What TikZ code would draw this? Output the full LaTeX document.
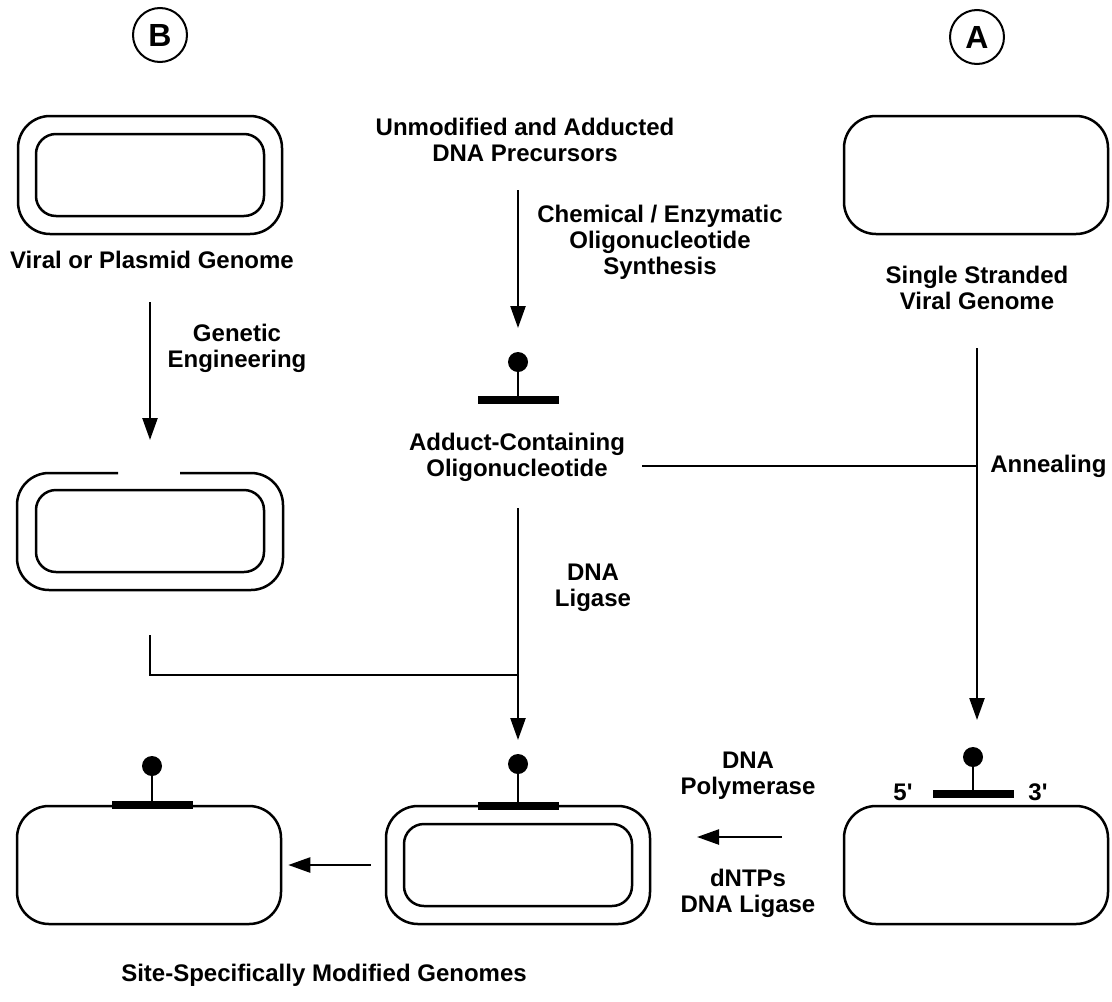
\documentclass[tikz,border=0pt]{standalone}
\usepackage{fontspec}
\setmainfont{Liberation Sans}
\usetikzlibrary{arrows.meta}

\begin{document}
\begin{tikzpicture} [x = 0.5pt, y = -0.5pt,
	every node/.style = {font = \bfseries\fontsize{12}{13}\selectfont,
		align = center,
		inner sep = 0pt},
	tag/.style = {circle,
		draw,
		line width = 1pt,
		minimum size = 27pt,
		font = \bfseries\fontsize{16}{16}\selectfont},
	genome/.style = {draw,
		line width = 1.25pt,
		rounded corners = 16pt,
		minimum width = 132pt,
		minimum height = 59pt},
	inner/.style = {genome,
		rounded corners = 10pt,
		minimum width = 114pt,
		minimum height = 41pt},
	oligo/.style = {fill, minimum width = 40.5pt, minimum height = 4pt},
	adduct/.style = {circle, fill, minimum size = 10pt},
	stick/.style = {line width = 1pt},
	link/.style = {line width = 1.2pt},
	arr/.style = {link, -{Triangle[length = 11pt, width = 7.5pt]}}]

	\useasboundingbox (0,0) rectangle (1112,1001);

	\node (B) [tag] at (160,35) {B};
	\node (A) [tag] at (977,37) {A};

	% pathway B
	\node (plasmid) [genome] at (150,175) {};
	\node (plasmidin) [inner] at (150,175) {};
	\node (plasmidlbl) at (152,260) {Viral or Plasmid Genome};
	\node (geneng) at (237,348) {Genetic\\Engineering};
	\draw [line width = 1.25pt, rounded corners = 16pt]
		(118,473) -- (17,473) -- (17,590) -- (283,590) -- (283,473) -- (180,473);
	\node (cutin) [inner] at (150,531) {};

	% oligonucleotide
	\node (prec) at (525,140) {Unmodified and Adducted\\DNA Precursors};
	\node (synth) at (660,242) {Chemical / Enzymatic\\Oligonucleotide\\Synthesis};
	\node (o1) [oligo] at (518,400) {};
	\node (a1) [adduct] at (518,362) {};
	\draw [stick] (a1) -- (o1);
	\node (oligolbl) at (517,457) {Adduct-Containing\\Oligonucleotide};
	\node (ligase) at (593,588) {DNA\\Ligase};

	% pathway A
	\node (ssgen) [genome] at (976,175) {};
	\node (sslbl) at (977,288) {Single Stranded\\Viral Genome};
	\node (anneal) [anchor = west] at (990,466) {Annealing};

	% products
	\node (leftgen) [genome] at (149,865) {};
	\node (o2) [oligo] at (152,805) {};
	\node (a2) [adduct] at (152,766) {};
	\draw [stick] (a2) -- (o2);

	\node (midgen) [genome] at (518,865) {};
	\node (midin) [inner] at (518,865) {};
	\node (o3) [oligo] at (518,806) {};
	\node (a3) [adduct] at (518,764) {};
	\draw [stick] (a3) -- (o3);

	\node (hetero) [genome] at (976,865) {};
	\node (o4) [oligo] at (973,794) {};
	\node (a4) [adduct] at (973,757) {};
	\draw [stick] (a4) -- (o4);
	\node (five) at (903,792) {5\textquotesingle};
	\node (three) at (1038,792) {3\textquotesingle};

	\node (poly) at (748,776) {DNA\\Polymerase};
	\node (dntp) at (748,893) {dNTPs\\DNA Ligase};
	\node (title) at (324,975) {Site-Specifically Modified Genomes};

	\coordinate (g1) at (150,302);
	\coordinate (g2) at (150,440);
	\coordinate (s1) at (518,190);
	\coordinate (s2) at (518,328);
	\coordinate (h1) at (642,466);
	\coordinate (v1) at (977,348);
	\coordinate (v2) at (977,720);
	\coordinate (l1) at (518,508);
	\coordinate (l2) at (518,740);
	\coordinate (j1) at (150,635);
	\coordinate (j2) at (518,675);
	\coordinate (p1) at (782,837);
	\coordinate (p2) at (697,837);

	\draw [arr] (g1) -- (g2);
	\draw [arr] (s1) -- (s2);
	\draw [arr] (v1) -- (v2);
	\draw [link] (h1) -- (v1 |- h1);
	\draw [arr] (l1) -- (l2);
	\draw [link] (j1) |- (j2);
	\draw [arr] (p1) -- (p2);
	\draw [arr, shorten <= 7pt, shorten >= 3pt] (midgen.west) -- (leftgen.east);

\end{tikzpicture}
\end{document}
